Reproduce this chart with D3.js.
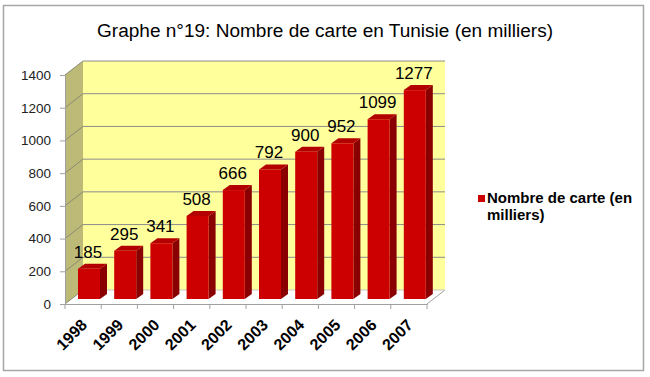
<!DOCTYPE html>
<html><head><meta charset="utf-8">
<script src="https://cdn.jsdelivr.net/npm/d3@7"></script>
<style>body{margin:0;background:#fff;} svg{display:block;}</style>
</head><body>
<script>
const years = ["1998","1999","2000","2001","2002","2003","2004","2005","2006","2007"];
const values = [185,295,341,508,666,792,900,952,1099,1277];
const yTicks = [0,200,400,600,800,1000,1200,1400];
const title = "Graphe n°19: Nombre de carte en Tunisie (en milliers)";
const legendLines = ["Nombre de carte (en","milliers)"];

const W=650,H=377;
const svg=d3.select("body").append("svg").attr("width",W).attr("height",H);
const font="Liberation Sans, Arial, sans-serif";

svg.append("rect").attr("x",3.5).attr("y",5.5).attr("width",640).attr("height",365)
  .attr("fill","#fff").attr("stroke","#a6a6a6").attr("stroke-width",1.5);

svg.append("text").attr("x",325).attr("y",37).attr("text-anchor","middle")
  .attr("font-family",font).attr("font-size",18).attr("fill","#000")
  .attr("textLength",456).attr("lengthAdjust","spacingAndGlyphs").text(title);

const x0=65,x1=427;
const x=d3.scaleBand().domain(years).range([x0,x1]).padding(0);
const y=d3.scaleLinear().domain([0,1400]).range([304,75]);
const DX=18,DY=-14; // wall depth
const bdx=7,bdy=-5;  // bar depth
const bOffX=13,bOffY=-5,bW=22;

// back wall
svg.append("rect").attr("x",x0+DX).attr("y",y(1400)+DY).attr("width",x1-x0).attr("height",y(0)-y(1400))
  .attr("fill","#ffff9c");
// side wall
svg.append("polygon").attr("points",[[x0,y(0)],[x0+DX,y(0)+DY],[x0+DX,y(1400)+DY],[x0,y(1400)]].join(" "))
  .attr("fill","#bdba78");
// floor
svg.append("polygon").attr("points",[[x0,y(0)],[x1,y(0)],[x1+DX,y(0)+DY],[x0+DX,y(0)+DY]].join(" "))
  .attr("fill","#fff").attr("stroke","none");
svg.append("line").attr("x1",x1).attr("y1",y(0)).attr("x2",x1+DX).attr("y2",y(0)+DY).attr("stroke","#a0a0a0");
// gridlines
yTicks.forEach(t=>{
  svg.append("line").attr("x1",x0+DX).attr("x2",x1+DX).attr("y1",y(t)+DY).attr("y2",y(t)+DY)
    .attr("stroke",t===0?"#c8c8c8":"#8c8c8c").attr("stroke-width",1);
  svg.append("line").attr("x1",x0).attr("x2",x0+DX).attr("y1",y(t)).attr("y2",y(t)+DY)
    .attr("stroke","#8a8a70").attr("stroke-width",1);
});

// y axis
const yAxis=svg.append("g").attr("transform",`translate(${x0},0)`)
  .call(d3.axisLeft(y).tickValues(yTicks).tickFormat(d3.format("d")).tickSize(5).tickPadding(9));
yAxis.select(".domain").attr("stroke","#a0a0a0");
yAxis.selectAll(".tick line").attr("stroke","#a0a0a0");
yAxis.selectAll("text").attr("font-family",font).attr("font-size",13.5).attr("fill","#222");

// x axis
const xAxis=svg.append("g").attr("transform",`translate(0,${y(0)})`)
  .call(d3.axisBottom(x).tickSize(0).tickFormat(""));
xAxis.select(".domain").attr("stroke","#a0a0a0");
const bounds=[x0].concat(years.map(d=>x(d)+x.bandwidth()));
svg.selectAll(".xt").data(bounds).join("line").attr("x1",d=>d).attr("x2",d=>d)
  .attr("y1",y(0)).attr("y2",y(0)+5).attr("stroke","#a0a0a0");
svg.selectAll(".xl").data(years).join("text")
  .attr("transform",d=>`translate(${x(d)+x.bandwidth()/2+5},${y(0)+22}) rotate(-45)`)
  .attr("text-anchor","end").attr("font-family",font).attr("font-weight","bold")
  .attr("font-size",16).attr("fill","#000").text(d=>d);

// bars
const data=years.map((d,i)=>({year:d,v:values[i]}));
const g=svg.append("g");
data.forEach(d=>{
  const xl=x(d.year)+bOffX, xr=xl+bW, yt=y(d.v)+bOffY, yb=y(0)+bOffY;
  g.append("polygon").attr("points",[[xr,yb],[xr+bdx,yb+bdy],[xr+bdx,yt+bdy],[xr,yt]].join(" ")).attr("fill","#8a0000");
  g.append("polygon").attr("points",[[xl,yt],[xr,yt],[xr+bdx,yt+bdy],[xl+bdx,yt+bdy]].join(" ")).attr("fill","#b30000");
  g.append("rect").attr("x",xl).attr("y",yt).attr("width",bW).attr("height",yb-yt).attr("fill","#cc0000");
  g.append("text").attr("x",xl+bW/2-1).attr("y",yt-11).attr("text-anchor","middle")
    .attr("font-family",font).attr("font-size",17).attr("fill","#000").text(d.v);
});

// legend
svg.append("rect").attr("x",478).attr("y",195).attr("width",7).attr("height",7).attr("fill","#cc0000");
legendLines.forEach((l,i)=>{
  svg.append("text").attr("x",487).attr("y",203+i*17).attr("font-family",font).attr("font-weight","bold")
    .attr("font-size",15).attr("fill","#000").text(l);
});
</script>
</body></html>
